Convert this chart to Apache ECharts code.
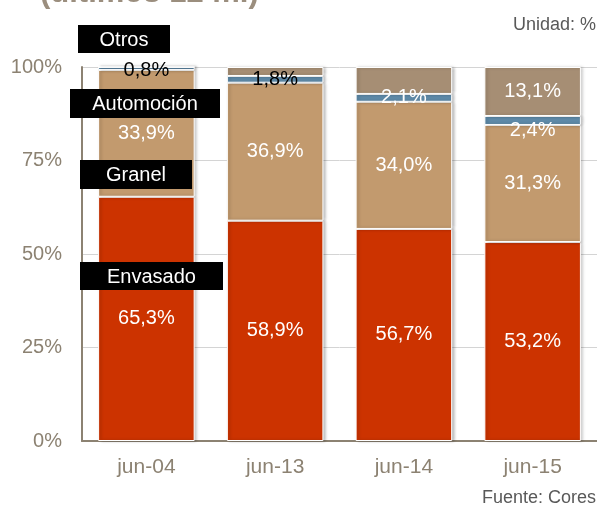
<!DOCTYPE html>
<html lang="es">
<head>
    <meta charset="UTF-8">
    <script src="https://cdn.jsdelivr.net/npm/echarts@6/dist/echarts.min.js"></script>
    <style>
        body { margin: 0; background: #fff; }
        #main { width: 597px; height: 507px; }
    </style>
</head>
<body>
    <div id="main"></div>
    <script>
        // data (% of total)
        var categories = ['jun-04', 'jun-13', 'jun-14', 'jun-15'];
        var envasado = [65.3, 58.9, 56.7, 53.2];
        var granel = [33.9, 36.9, 34.0, 31.3];
        var automocion = [0.8, 1.8, 2.1, 2.4];
        var otros = [0, 2.4, 7.2, 13.1];
        var yTicks = ['0%', '25%', '50%', '75%', '100%'];

        var axisGrey = '#8c8272';
        var font = 'Liberation Sans, Arial';

        function fmt(v) {
            return v.toFixed(1).replace('.', ',') + '%';
        }

        function barStyle(color) {
            return {
                color: color,
                borderColor: '#ffffff',
                borderWidth: 1,
                shadowColor: 'rgba(0,0,0,0.25)',
                shadowBlur: 3,
                shadowOffsetX: 2
            };
        }

        // black name tags on the left
        function tag(name, x, y, w, h) {
            return [
                { type: 'rect', shape: { x: x, y: y, width: w, height: h }, style: { fill: '#000' }, z: 50 },
                { type: 'text', x: x + w / 2, y: y + h / 2 + 1, z: 51,
                  style: { text: name, fill: '#fff', font: '20px ' + font, align: 'center', verticalAlign: 'middle' } }
            ];
        }

        var myChart = echarts.init(document.getElementById('main'));
        var option = {
            animation: false,
            textStyle: { fontFamily: font },
            grid: { left: 82, top: 67, width: 517, height: 374 },
            xAxis: {
                type: 'category',
                data: categories,
                axisLine: { lineStyle: { color: axisGrey, width: 2 } },
                axisTick: { show: false },
                axisLabel: { color: axisGrey, fontSize: 21, margin: 16 }
            },
            yAxis: {
                type: 'value',
                min: 0,
                max: 100,
                interval: 25,
                axisLine: { show: true, lineStyle: { color: axisGrey, width: 2 } },
                axisTick: { show: false },
                axisLabel: {
                    color: axisGrey, fontSize: 20, margin: 20,
                    formatter: function (v) { return yTicks[v / 25]; }
                },
                splitLine: { lineStyle: { color: '#d4d4d4', width: 1 } }
            },
            series: [
                {
                    name: 'Envasado', type: 'bar', stack: 't', barCategoryGap: '25%',
                    data: envasado, itemStyle: barStyle('#cc3300'),
                    label: { show: true, position: 'inside', color: '#fff', fontSize: 20,
                        formatter: function (p) { return fmt(p.value); } }
                },
                {
                    name: 'Granel', type: 'bar', stack: 't',
                    data: granel, itemStyle: barStyle('#c29a6e'),
                    label: { show: true, position: 'inside', color: '#fff', fontSize: 20,
                        formatter: function (p) { return fmt(p.value); } }
                },
                {
                    name: 'Automoción', type: 'bar', stack: 't',
                    data: automocion.map(function (v, i) {
                        var lab = {};
                        if (i < 2) lab.color = '#000';
                        if (i === 0) lab.offset = [0, 2];
                        if (i === 3) lab.offset = [0, 10];
                        return { value: v, label: lab };
                    }),
                    itemStyle: barStyle('#5e8aa8'),
                    label: { show: true, position: 'inside', color: '#fff', fontSize: 20,
                        formatter: function (p) { return fmt(p.value); } }
                },
                {
                    name: 'Otros', type: 'bar', stack: 't',
                    data: otros, itemStyle: barStyle('#a68e74'),
                    label: { show: true, position: 'inside', color: '#fff', fontSize: 20,
                        formatter: function (p) { return p.dataIndex === 3 ? fmt(p.value) : ''; } }
                }
            ],
            graphic: [
                { type: 'text', left: 40, top: -22,
                  style: { text: '(últimos 12 m.)', fill: '#9b8e7e', font: 'bold 31px ' + font } },
                { type: 'text', right: 1, top: 16,
                  style: { text: 'Unidad: %', fill: '#595959', font: '18px ' + font } },
                { type: 'text', right: 1, top: 489,
                  style: { text: 'Fuente: Cores', fill: '#595959', font: '18px ' + font } }
            ].concat(
                tag('Otros', 78, 25, 92, 28),
                tag('Automoción', 70, 89, 150, 29),
                tag('Granel', 80, 160, 112, 29),
                tag('Envasado', 80, 262, 143, 28)
            )
        };
        myChart.setOption(option);
    </script>
</body>
</html>
